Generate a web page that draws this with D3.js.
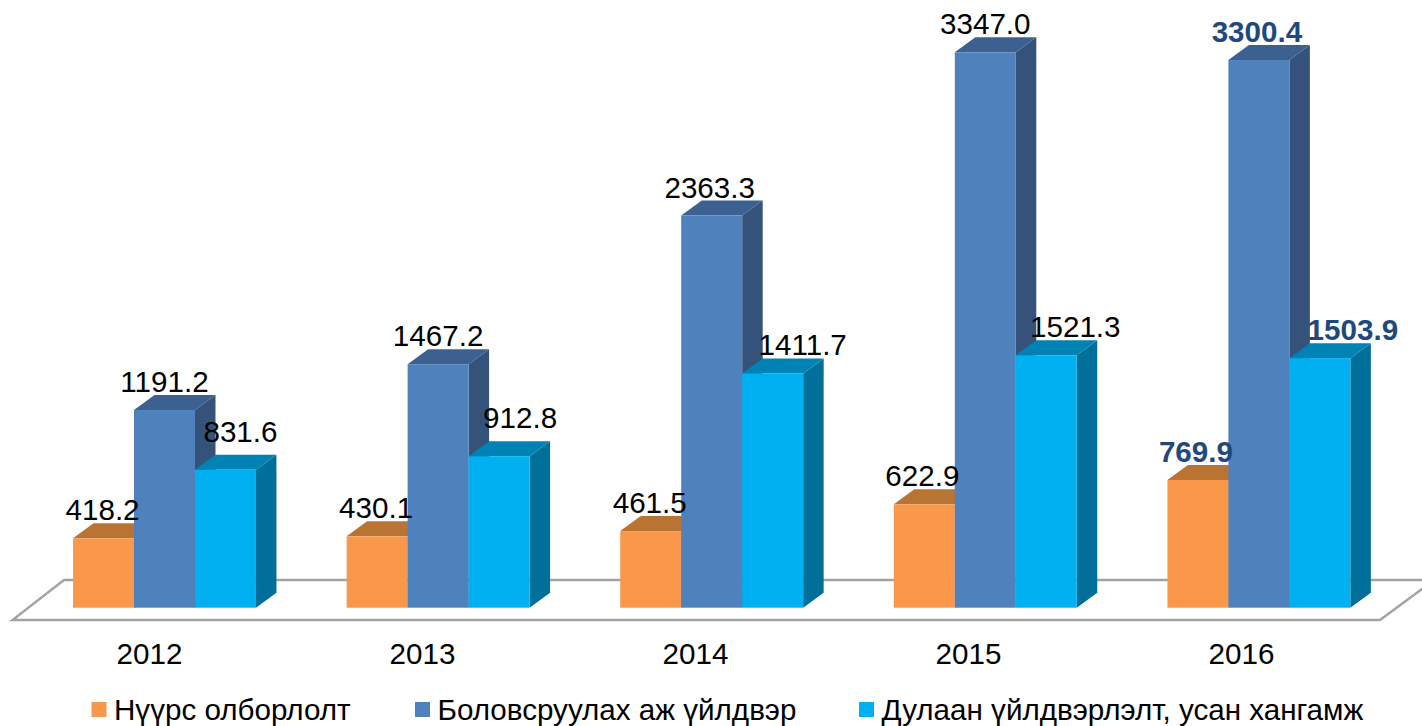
<!DOCTYPE html>
<html><head><meta charset="utf-8">
<script src="https://cdn.jsdelivr.net/npm/d3@7"></script>
<style>html,body{margin:0;padding:0;background:#fff}svg{display:block}text{font-family:"Liberation Sans",Arial,sans-serif}</style>
</head><body><div id="c"></div>
<script>
const years=["2012","2013","2014","2015","2016"];
const seriesNames=["Нүүрс олборлолт","Боловсруулах аж үйлдвэр","Дулаан үйлдвэрлэлт, усан хангамж"];
const coal=[418.2,430.1,461.5,622.9,769.9];
const manufacturing=[1191.2,1467.2,2363.3,3347.0,3300.4];
const heating=[831.6,912.8,1411.7,1521.3,1503.9];
const seriesValues=[coal,manufacturing,heating];
const frontColors=["#F9974A","#4F81BD","#00B0F0"];
const topColors=["#B97333","#3C6190","#0083B4"];
const sideColors=["#B97333","#34527A","#00709B"];
// per-label nudges (px) from the default spot above the bar
const labelDx=[[-1,0,15],[-1,0,21],[-1,-2,30],[-2,0,29],[-2,-2,33]];
const labelDy=[[0,0,-10],[0,0,-10],[0,0,0],[0,0,0],[0,0,0]];

const W=1422,H=726,depthX=20.5,depthY=15;
const svg=d3.select("#c").append("svg").attr("width",W).attr("height",H);
const x0=d3.scaleBand().domain(years).range([27.7,27.7+5*273.6]).paddingInner(0.3314).paddingOuter(0.1657);
const x1=d3.scaleBand().domain([0,1,2]).range([0,x0.bandwidth()]);
const y=d3.scaleLinear().domain([0,3347]).range([607.7,52.3]);
const yearX=d3.scalePoint().domain(years).range([149.5,1241.5]);

// floor
const floor=[[12.5,620],[1380,620],[1434,580],[64,580]];
svg.append("path").attr("d",d3.line()(floor)+"Z").attr("fill","#fff").attr("stroke","#A3A3A3").attr("stroke-width",2.4);

const groups=svg.selectAll("g.cat").data(years).join("g").attr("class","cat")
  .attr("transform",d=>`translate(${x0(d)},0)`);
groups.each(function(yr,i){
  const g=d3.select(this);
  seriesValues.forEach((vals,s)=>{
    const l=x1(s),r=l+x1.bandwidth(),t=y(vals[i]),b=y(0);
    g.append("polygon").attr("fill",sideColors[s])
      .attr("points",[[r,t],[r+depthX,t-depthY],[r+depthX,b-depthY],[r,b]].join(" "));
    g.append("polygon").attr("fill",topColors[s])
      .attr("points",[[l,t],[l+depthX,t-depthY],[r+depthX,t-depthY],[r,t]].join(" "));
    g.append("rect").attr("x",l).attr("y",t).attr("width",x1.bandwidth()).attr("height",b-t).attr("fill",frontColors[s]);
  });
});
// labels on top
groups.each(function(yr,i){
  const g=d3.select(this),last=i===years.length-1;
  seriesValues.forEach((vals,s)=>{
    g.append("text").attr("text-anchor","middle")
      .attr("x",x1(s)+x1.bandwidth()/2+labelDx[i][s])
      .attr("y",y(vals[i])-18+labelDy[i][s])
      .attr("font-size",29.6).attr("font-weight",last?"bold":"normal")
      .attr("fill",last?"#1F497D":"#000").text(vals[i].toFixed(1));
  });
});
svg.selectAll("text.year").data(years).join("text").attr("class","year")
  .attr("text-anchor","middle").attr("x",d=>yearX(d)).attr("y",664)
  .attr("font-size",29.6).attr("fill","#000").text(d=>d);
// legend
const legendX=[91.5,415,859];
seriesNames.forEach((n,s)=>{
  svg.append("rect").attr("x",legendX[s]).attr("y",702).attr("width",15).attr("height",15).attr("fill",frontColors[s]);
  svg.append("text").attr("x",legendX[s]+22.5).attr("y",720).attr("font-size",29.6).attr("fill","#000").text(n);
});
</script></body></html>
